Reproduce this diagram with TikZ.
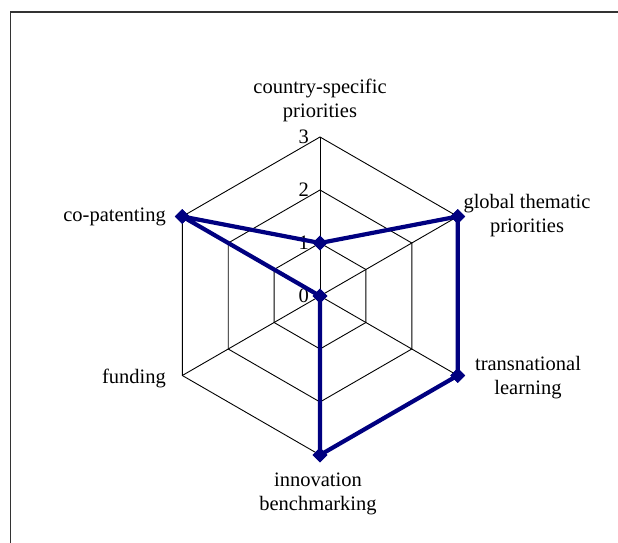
\documentclass[tikz,border=0pt]{standalone}
\usepackage{fontspec}
\setmainfont{Liberation Serif}
\usetikzlibrary{shapes.geometric,calc}
\definecolor{navyline}{RGB}{0,0,128}
\begin{document}
\begin{tikzpicture}[x=1bp,y=-1bp,
  grid/.style={draw=black,line width=0.9bp},
  frame/.style={draw=black!80,line width=1.6bp},
  series/.style={draw=navyline,line width=4.2bp,line join=round},
  marker/.style={diamond,fill=navyline,inner sep=0pt,minimum size=15bp},
  axlabel/.style={font=\fontsize{20.5bp}{24bp}\selectfont,align=center,inner sep=0pt},
  ticklabel/.style={font=\fontsize{20.5bp}{24bp}\selectfont,anchor=east,inner sep=0pt}]
\useasboundingbox (0,0) rectangle (618,543);
% frame
\draw[frame] (10.5,543) -- (10.5,12) -- (618,12);
% geometry
\coordinate (O) at (320,296);
\foreach \k/\ang in {1/90,2/30,3/-30,4/-90,5/-150,6/150}{
  \foreach \r in {1,2,3}{
    \coordinate (v\k-\r) at ($(O)+({cos(\ang)*53*\r},{-sin(\ang)*53*\r})$);
  }
}
% hexagon grid
\foreach \r in {1,2,3}{
  \draw[grid] (v1-\r) -- (v2-\r) -- (v3-\r) -- (v4-\r) -- (v5-\r) -- (v6-\r) -- cycle;
}
\foreach \k in {1,...,6}{
  \draw[grid] (O) -- (v\k-3);
}
% tick labels
\node[ticklabel] (t0) at (309,296) {0};
\node[ticklabel] (t1) at (309,243) {1};
\node[ticklabel] (t2) at (309,190) {2};
\node[ticklabel] (t3) at (309,137) {3};
% axis labels
\node[axlabel] (l1) at (320,100.5) {country-specific\\priorities};
\node[axlabel] (l2) at (527,215.5) {global thematic\\priorities};
\node[axlabel] (l3) at (528,378) {transnational\\learning};
\node[axlabel] (l4) at (318,494) {innovation\\benchmarking};
\node[axlabel,anchor=east] (l5) at (166,378) {funding};
\node[axlabel,anchor=east] (l6) at (166,217) {co-patenting};
% data series
\node[marker] (d1) at (v1-1) {};
\node[marker] (d2) at (v2-3) {};
\node[marker] (d3) at (v3-3) {};
\node[marker] (d4) at (v4-3) {};
\node[marker] (d5) at (O) {};
\node[marker] (d6) at (v6-3) {};
\draw[series] (d1.center) -- (d2.center) -- (d3.center) -- (d4.center) -- (d5.center) -- (d6.center) -- cycle;
\foreach \k in {1,...,6}{
  \node[marker] at (d\k) {};
}
\end{tikzpicture}
\end{document}
